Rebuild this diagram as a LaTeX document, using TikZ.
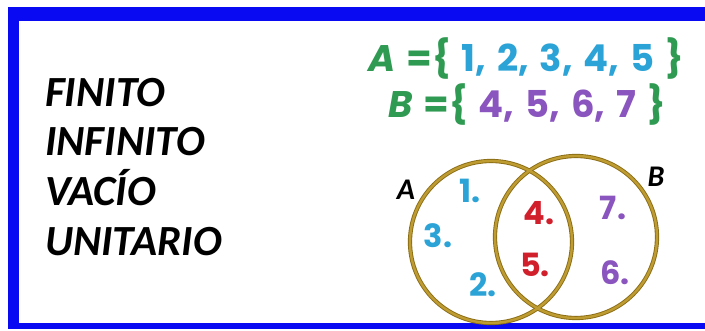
\documentclass[tikz,border=0pt]{standalone}
\usepackage{fontspec}
\setmainfont{Carlito}
\newfontfamily\roundfont{Poppins}[WordSpace=1.4]
\usetikzlibrary{positioning}
\definecolor{frameblue}{HTML}{0A0AF2}
\definecolor{setgreen}{HTML}{2E9A52}
\definecolor{numblue}{HTML}{2BA3D6}
\definecolor{numpurple}{HTML}{8A55BE}
\definecolor{numred}{HTML}{D11F2C}
\definecolor{ring}{HTML}{BE9C32}
\definecolor{ringdark}{HTML}{8A6C14}
\tikzset{
  kind/.style={font=\fontsize{43}{43}\selectfont\bfseries\itshape,anchor=base west,inner sep=0pt},
  setline/.style={font=\fontsize{37}{37}\selectfont\roundfont\bfseries,anchor=base west,inner sep=0pt},
  elem/.style={font=\fontsize{32}{32}\selectfont\roundfont\bfseries,anchor=base,inner sep=0pt},
  setname/.style={font=\fontsize{30}{30}\selectfont\bfseries\itshape,anchor=base,inner sep=0pt},
  ringout/.style={draw=ringdark,line width=4.2pt,circle,inner sep=0pt},
  ringin/.style={draw=ring,line width=2.4pt,circle,inner sep=0pt},
}
\begin{document}
\begin{tikzpicture}[x=1pt,y=-1pt]
\useasboundingbox (0,0) rectangle (705,331);
\fill[white] (0,0) rectangle (705,331);
\fill[frameblue] (8,7) rectangle (705,21);
\fill[frameblue] (8,7) rectangle (19,329);
\fill[frameblue] (8,323) rectangle (705,329);
% kinds of sets
\node[kind] (finito) at (45,107) {FINITO};
\node[kind] (infinito) at (45,156) {INFINITO};
\node[kind] (vacio) at (45,206) {VACÍO};
\node[kind] (unitario) at (45,256) {UNITARIO};
% the two sets
\node[setline] (setdefA) at (368,72) {\color{setgreen}{\itshape A} =\{ \color{numblue}1, 2, 3, 4, 5 \color{setgreen}\}};
\node[setline] (setdefB) at (388,118) {\color{setgreen}{\itshape B} =\{ \color{numpurple}4, 5, 6, 7 \color{setgreen}\}};
% venn diagram
\node[ringout,minimum width=162pt] (ringA) at (491,242) {};
\node[ringout,minimum width=162pt] (ringB) at (576,237) {};
\node[ringin,minimum width=162pt] (ringAi) at (491,242) {};
\node[ringin,minimum width=162pt] (ringBi) at (576,237) {};
\node[setname] (nameA) at (406,200) {A};
\node[setname] (nameB) at (656,187) {B};
\node[elem,numblue] (one) at (470,203) {1.};
\node[elem,numblue] (three) at (438,248) {3.};
\node[elem,numblue] (two) at (483,297) {2.};
\node[elem,numred] (four) at (539,225) {4.};
\node[elem,numred] (five) at (535,277) {5.};
\node[elem,numpurple] (seven) at (613,220) {7.};
\node[elem,numpurple] (six) at (615,285) {6.};
\end{tikzpicture}
\end{document}
